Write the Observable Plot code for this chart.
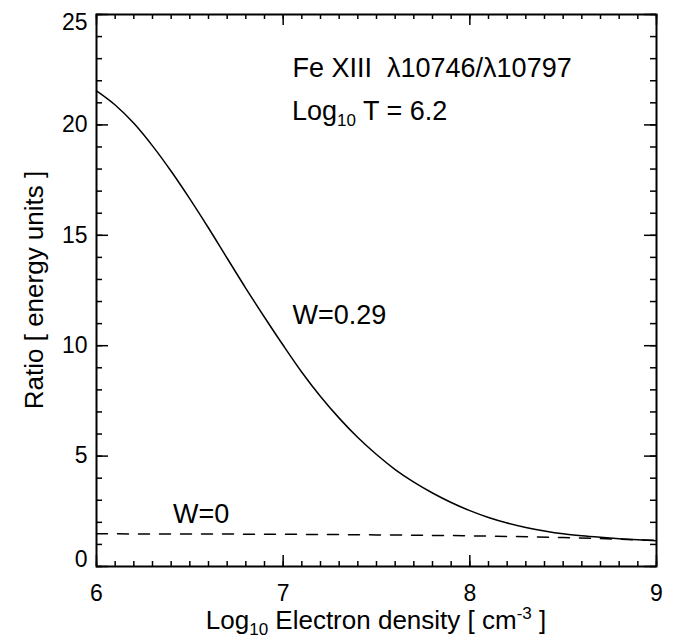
<!DOCTYPE html>
<html><head><meta charset="utf-8">
<script src="https://cdn.jsdelivr.net/npm/d3@7"></script>
<script src="https://cdn.jsdelivr.net/npm/@observablehq/plot@0.6"></script>
<style>body{margin:0;background:#fff} svg{display:block}</style>
</head><body><div id="chart"></div>
<script>
// Data
const density = [6.0, 6.1, 6.2, 6.3, 6.4, 6.5, 6.6, 6.7, 6.8, 6.9, 7.0, 7.1, 7.2, 7.3, 7.4, 7.5, 7.6, 7.7, 7.8, 7.9, 8.0, 8.1, 8.2, 8.3, 8.4, 8.5, 8.6, 8.7, 8.8, 8.9, 9.0];
const ratioW029 = [21.54, 20.90, 20.07, 19.05, 17.90, 16.65, 15.33, 13.96, 12.60, 11.29, 10.02, 8.80, 7.70, 6.72, 5.84, 5.07, 4.39, 3.82, 3.33, 2.90, 2.53, 2.22, 1.97, 1.77, 1.61, 1.48, 1.39, 1.32, 1.26, 1.21, 1.17];
const densityW0 = [6.0, 6.5, 7.0, 7.5, 8.0, 8.5, 9.0];
const ratioW0 = [1.48, 1.47, 1.46, 1.43, 1.39, 1.31, 1.18];
const xTicks = [6, 7, 8, 9];
const yTicks = [0, 5, 10, 15, 20, 25];
const xMinor = d3.range(60, 91).map(d => d / 10);
const yMinor = d3.range(0, 26);
const notes = [
  {x: 7.05, y: 22.15, text: "Fe XIII  \u03BB10746/\u03BB10797"},
  {x: 7.05, y: 11.0, text: "W=0.29"},
  {x: 6.41, y: 1.95, text: "W=0"}
];
const noteLogT = {x: 7.05, y: 20.2};

const W = 678, H = 638;
const mL = 96, mR = 22, mT = 14, mB = 72;
const pw = W - mL - mR, ph = H - mT - mB;
const font = "'Liberation Sans', Arial, Helvetica, sans-serif";
const fsTick = 23, fs = 27, fsTitle = 26, fsSub = 17;

const w029 = density.map((d, i) => ({x: d, y: ratioW029[i]}));
const w0 = densityW0.map((d, i) => ({x: d, y: ratioW0[i]}));

const plot = Plot.plot({
  width: W, height: H,
  marginLeft: mL, marginRight: mR, marginTop: mT, marginBottom: mB,
  style: {fontFamily: font, fontSize: fsTick + "px", background: "#fff", color: "#000"},
  x: {domain: [6, 9], axis: null},
  y: {domain: [0, 25], axis: null},
  marks: [
    // minor ticks
    Plot.tickX(xMinor, {x: d => d, insetTop: ph - 5, stroke: "#000", strokeWidth: 1.5}),
    Plot.tickX(xMinor, {x: d => d, insetBottom: ph - 5, stroke: "#000", strokeWidth: 1.5}),
    Plot.tickY(yMinor, {y: d => d, insetRight: pw - 6, stroke: "#000", strokeWidth: 1.5}),
    Plot.tickY(yMinor, {y: d => d, insetLeft: pw - 6, stroke: "#000", strokeWidth: 1.5}),
    // major ticks
    Plot.tickX(xTicks, {x: d => d, insetTop: ph - 11, stroke: "#000", strokeWidth: 1.5}),
    Plot.tickX(xTicks, {x: d => d, insetBottom: ph - 11, stroke: "#000", strokeWidth: 1.5}),
    Plot.tickY(yTicks, {y: d => d, insetRight: pw - 12, stroke: "#000", strokeWidth: 1.5}),
    Plot.tickY(yTicks, {y: d => d, insetLeft: pw - 12, stroke: "#000", strokeWidth: 1.5}),
    Plot.frame({stroke: "#000", strokeWidth: 2}),
    // tick labels
    Plot.text(xTicks, {x: d => d, frameAnchor: "bottom", lineAnchor: "top", dy: 18, text: d => String(d), fill: "#000"}),
    Plot.text(yTicks.slice(1, -1), {y: d => d, frameAnchor: "left", textAnchor: "end", dx: -9, text: d => String(d), fill: "#000"}),
    Plot.text([yTicks[0]], {y: d => d, frameAnchor: "left", textAnchor: "end", lineAnchor: "bottom", dx: -9, text: d => String(d), fill: "#000"}),
    Plot.text([yTicks[yTicks.length - 1]], {y: d => d, frameAnchor: "left", textAnchor: "end", lineAnchor: "top", dx: -9, dy: -1, text: d => String(d), fill: "#000"}),
    // curves
    Plot.line(w0, {x: "x", y: "y", stroke: "#000", strokeWidth: 1.5, strokeDasharray: "11,10", curve: "monotone-x"}),
    Plot.line(w029, {x: "x", y: "y", stroke: "#000", strokeWidth: 1.5, curve: "monotone-x"}),
    // annotations
    Plot.text(notes, {x: "x", y: "y", text: "text", textAnchor: "start", lineAnchor: "bottom", fontSize: fs, fill: "#000"})
  ]
});

const svg = d3.select(plot);
const xs = plot.scale("x"), ys = plot.scale("y");

// Log10 T = 6.2 annotation (with subscript)
const t1 = svg.append("text")
  .attr("x", xs.apply(noteLogT.x)).attr("y", ys.apply(noteLogT.y))
  .attr("text-anchor", "start")
  .attr("font-family", font).attr("font-size", fs).attr("fill", "#000");
t1.append("tspan").text("Log");
t1.append("tspan").attr("font-size", fsSub).attr("dy", 6).text("10");
t1.append("tspan").attr("dy", -6).text(" T = 6.2");

// Y axis title
svg.append("text")
  .attr("transform", `translate(43,${mT + ph / 2}) rotate(-90)`)
  .attr("text-anchor", "middle")
  .attr("font-family", font).attr("font-size", fsTitle).attr("fill", "#000")
  .text("Ratio [ energy units ]");

// X axis title
const xt = svg.append("text")
  .attr("x", mL + pw / 2).attr("y", 629)
  .attr("text-anchor", "middle")
  .attr("font-family", font).attr("font-size", fsTitle).attr("fill", "#000");
xt.append("tspan").text("Log");
xt.append("tspan").attr("font-size", fsSub).attr("dy", 6).text("10");
xt.append("tspan").attr("dy", -6).text(" Electron density [ cm");
xt.append("tspan").attr("font-size", fsSub).attr("dy", -10).text("-3");
xt.append("tspan").attr("dy", 10).text(" ]");

document.getElementById("chart").appendChild(plot);
</script>
</body></html>
